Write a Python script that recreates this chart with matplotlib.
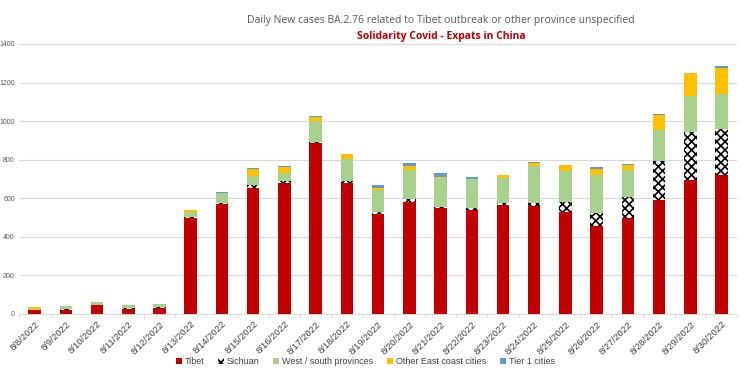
#!/usr/bin/env python3
"""
Daily new BA.2.76 cases, stacked by origin (Tibet outbreak chart).
"""

import numpy as np
import matplotlib.pyplot as plt

plt.rcParams['font.family'] = ['Liberation Sans', 'DejaVu Sans']
plt.rcParams['hatch.linewidth'] = 1.2

dates = ['8/8/2022', '8/9/2022', '8/10/2022', '8/11/2022', '8/12/2022', '8/13/2022',
         '8/14/2022', '8/15/2022', '8/16/2022', '8/17/2022', '8/18/2022', '8/19/2022',
         '8/20/2022', '8/21/2022', '8/22/2022', '8/23/2022', '8/24/2022', '8/25/2022',
         '8/26/2022', '8/27/2022', '8/28/2022', '8/29/2022', '8/30/2022']

tibet = [20, 22, 44, 26, 30, 499, 570, 654, 681, 885, 681, 521,
         582, 549, 540, 565, 561, 528, 454, 498, 592, 696, 720]
sichuan = [1, 3, 5, 3, 5, 6, 8, 16, 10, 7, 10, 7,
           12, 8, 9, 10, 14, 55, 72, 108, 199, 246, 239]
west_south = [5, 15, 12, 15, 19, 23, 50, 47, 40, 107, 114, 116,
              155, 146, 151, 128, 194, 156, 196, 142, 165, 190, 184]
east_coast = [8, 2, 0, 3, 0, 9, 0, 33, 33, 21, 22, 11,
              19, 7, 2, 16, 15, 33, 32, 22, 78, 118, 135]
tier1 = [0, 0, 0, 0, 0, 0, 4, 8, 5, 9, 3, 15,
         15, 21, 8, 3, 4, 0, 7, 8, 3, 0, 6]

series = [
    ('Tibet', tibet, dict(color='#C00000')),
    ('Sichuan', sichuan, dict(color='white', edgecolor='black', hatch='xxxx', linewidth=0)),
    ('West / south provinces', west_south, dict(color='#A9D18E')),
    ('Other East coast cities', east_coast, dict(color='#FFC000')),
    ('Tier 1 cities', tier1, dict(color='#5B9BD5')),
]

fig = plt.figure(figsize=(7.45, 3.7), dpi=100)
ax = fig.add_axes([0.0255, 0.1514, 0.964, 0.7297])

x = np.arange(len(dates))
bottom = np.zeros(len(dates))
for name, vals, style in series:
    vals = np.array(vals, dtype=float)
    ax.bar(x, vals, width=0.4, bottom=bottom, label=name, zorder=3, **style)
    bottom += vals

ax.set_xlim(-0.5, len(dates) - 0.5)
ax.set_ylim(0, 1400)
ax.set_yticks(np.arange(0, 1401, 200))
ax.grid(True, axis='y', color='#D9D9D9', linewidth=0.8, zorder=0)

for side in ['top', 'right', 'left']:
    ax.spines[side].set_visible(False)
ax.spines['bottom'].set_color('#D9D9D9')

ax.set_xticks(x)
ax.set_xticklabels(dates, rotation=45, ha='right', rotation_mode='anchor',
                   fontsize=6.8, color='#404040')
ax.set_xticks(np.arange(-0.5, len(dates), 1), minor=True)
ax.tick_params(axis='x', which='major', length=0, pad=4)
ax.tick_params(axis='x', which='minor', length=3, color='#D9D9D9')
ax.tick_params(axis='y', length=0, labelsize=5, labelcolor='#595959', pad=3)

fig.text(0.592, 0.945, 'Daily New cases BA.2.76 related to Tibet outbreak or other province unspecified',
         ha='center', va='center', fontsize=7.5, color='#595959', family='Open Sans')
fig.text(0.592, 0.9, 'Solidarity Covid - Expats in China',
         ha='center', va='center', fontsize=7.5, color='#C00000', fontweight='bold',
         family='Open Sans')

fig.legend(loc='center', bbox_to_anchor=(0.49, 0.022), ncol=5, frameon=False,
           fontsize=6.5, handlelength=0.7, handleheight=0.7, handletextpad=0.3,
           columnspacing=1.5, labelcolor='#404040')

plt.savefig('out.png', dpi=100)
